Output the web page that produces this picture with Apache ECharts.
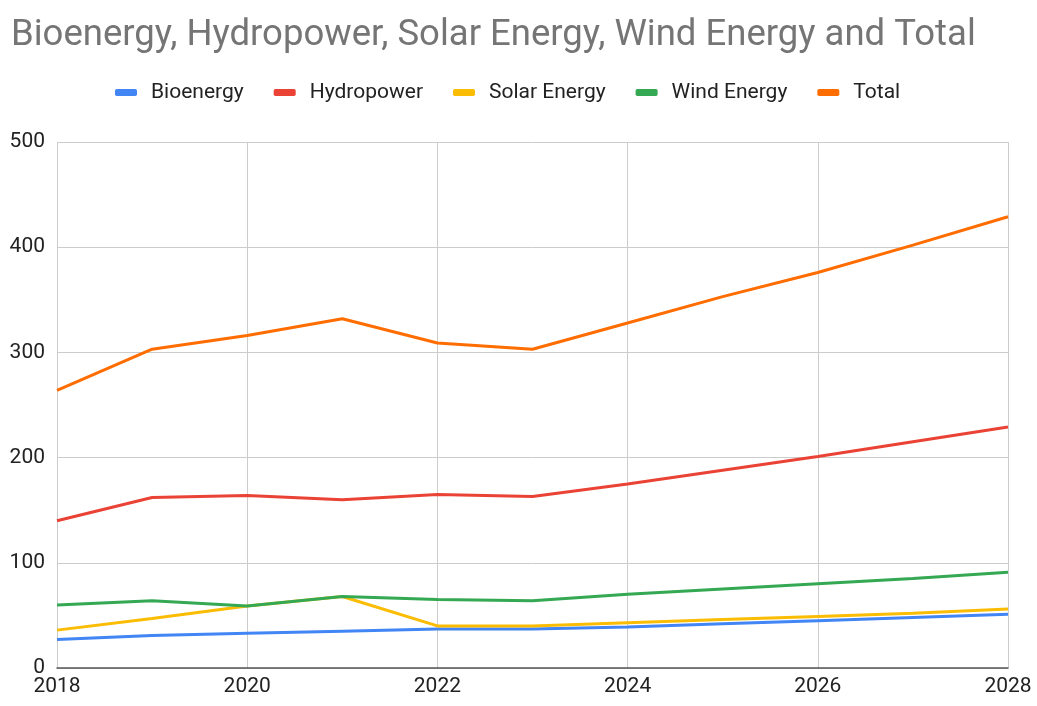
<!DOCTYPE html>
<html><head><meta charset="utf-8">
<script src="https://cdn.jsdelivr.net/npm/echarts@6/dist/echarts.min.js"></script>
<style>html,body{margin:0;padding:0;background:#fff}#c{width:1037px;height:706px}</style>
</head><body><div id="c"></div>
<script>
const years = [2018, 2019, 2020, 2021, 2022, 2023, 2024, 2025, 2026, 2027, 2028];
const bioenergy = [27, 31, 33, 35, 37, 37, 39, 42, 45, 48, 51];
const hydropower = [140, 162, 164, 160, 165, 163, 175, 188, 201, 215, 229];
const solarEnergy = [36, 47, 59, 68, 40, 40, 43, 46, 49, 52, 56];
const windEnergy = [60, 64, 59, 68, 65, 64, 70, 75, 80, 85, 91];
const total = [264, 303, 316, 332, 309, 303, 328, 353, 376, 402, 429];
const seriesNames = ['Bioenergy', 'Hydropower', 'Solar Energy', 'Wind Energy', 'Total'];
const seriesData = [bioenergy, hydropower, solarEnergy, windEnergy, total];
const colors = ['#4285F4', '#EA4335', '#FBBC04', '#34A853', '#FF6D01'];

const chart = echarts.init(document.getElementById('c'));
chart.setOption({
  animation: false,
  color: colors,
  title: {
    text: 'Bioenergy, Hydropower, Solar Energy, Wind Energy and Total',
    left: 6, top: 12,
    textStyle: { fontFamily: 'Roboto', fontWeight: 'normal', fontSize: 36.5, color: '#757575' }
  },
  legend: {
    top: 77, left: 110,
    itemWidth: 22, itemHeight: 7, itemGap: 30,
    icon: 'roundRect',
    textStyle: { fontFamily: 'Roboto', fontSize: 21, color: '#222', padding: [0, 0, 0, 9] },
    data: seriesNames
  },
  grid: { left: 57, right: 29, top: 142, bottom: 38, containLabel: false },
  xAxis: {
    type: 'value', min: 2018, max: 2028, interval: 2,
    axisLine: { show: true, lineStyle: { color: '#555', width: 1.5 } },
    axisTick: { show: false },
    axisLabel: { formatter: v => String(v), fontFamily: 'Roboto', fontSize: 21, color: '#222', margin: 8 },
    splitLine: { show: true, lineStyle: { color: '#ccc', width: 1 } }
  },
  yAxis: {
    type: 'value', min: 0, max: 500, interval: 100,
    axisLine: { show: false }, axisTick: { show: false },
    axisLabel: { fontFamily: 'Roboto', fontSize: 21, color: '#222', margin: 12 },
    splitLine: { show: true, lineStyle: { color: '#ccc', width: 1 } }
  },
  series: seriesNames.map((n, i) => ({
    name: n, type: 'line', showSymbol: false, symbol: 'none',
    lineStyle: { width: 3 },
    data: years.map((y, j) => [y, seriesData[i][j]])
  }))
});
</script></body></html>
